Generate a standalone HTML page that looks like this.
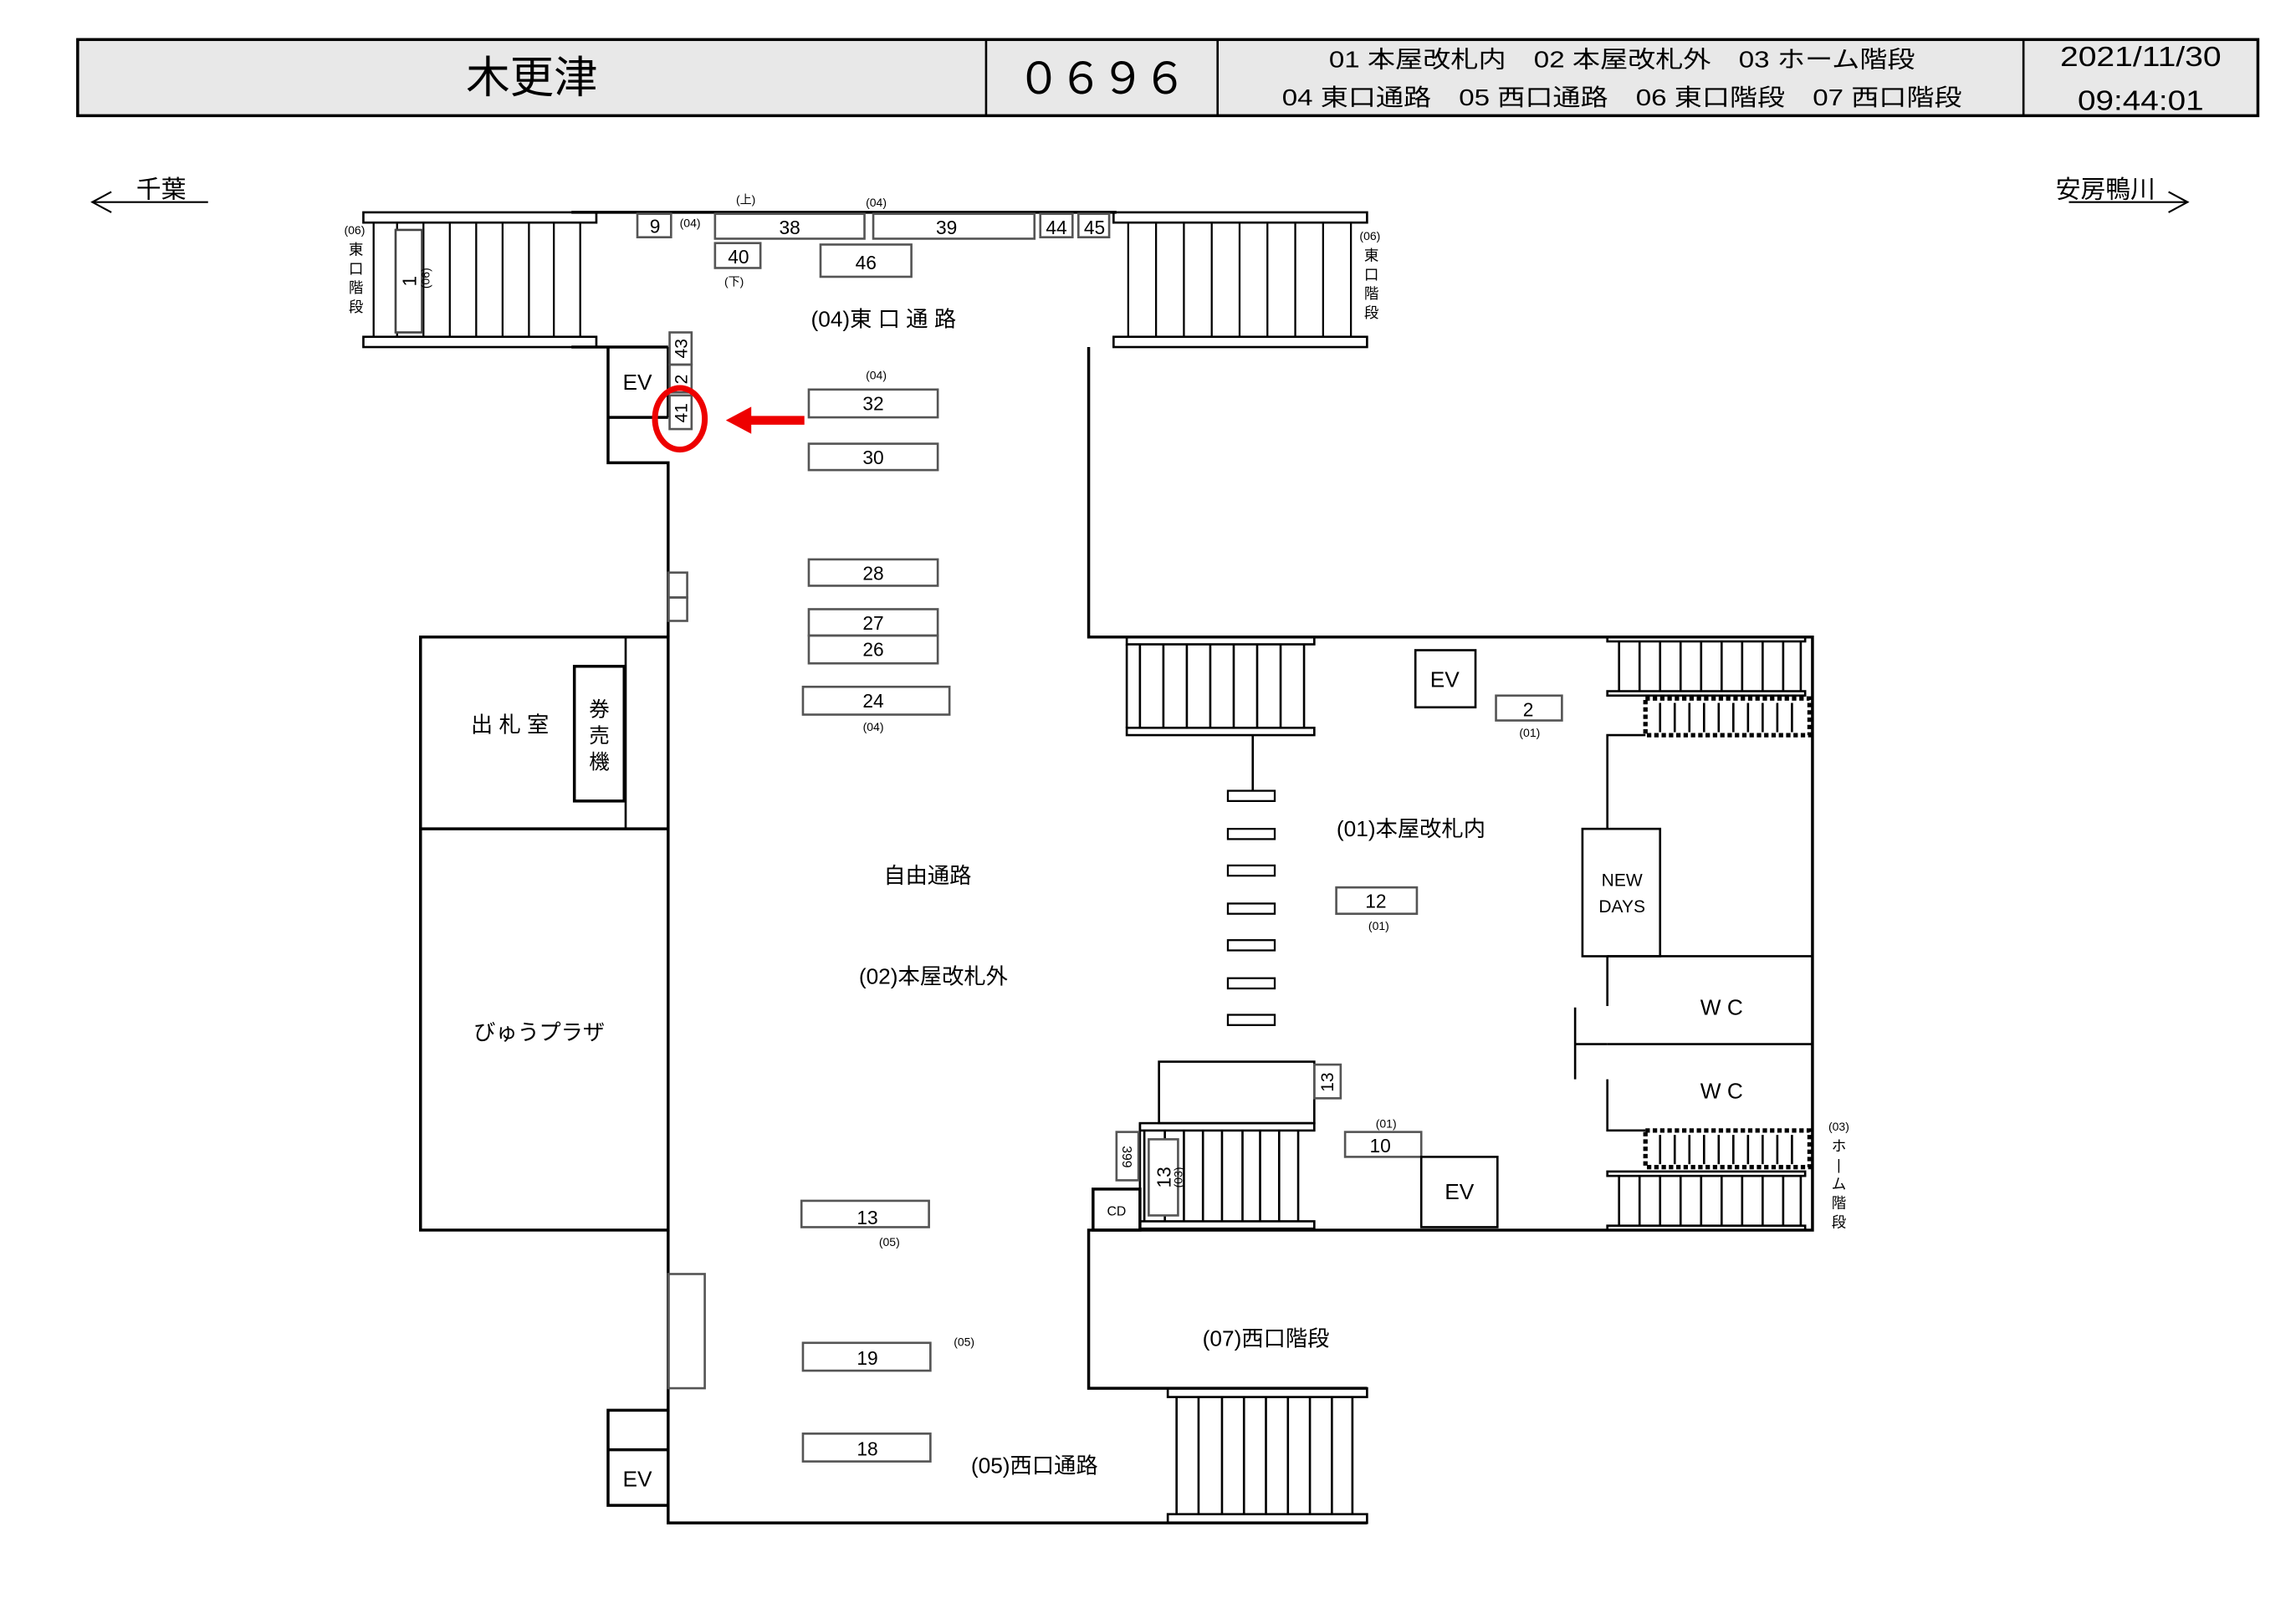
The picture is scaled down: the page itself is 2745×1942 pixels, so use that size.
<!DOCTYPE html>
<html><head><meta charset="utf-8"><style>
html,body{margin:0;padding:0;background:#fff;width:2745px;height:1942px;overflow:hidden}
svg{display:block}
text{font-family:"Liberation Sans","Noto Sans CJK JP",sans-serif;fill:#000}
</style></head><body>
<svg width="2745" height="1942" viewBox="0 0 1567 1109" preserveAspectRatio="none" xmlns="http://www.w3.org/2000/svg">
<g fill="none" stroke="#000" stroke-width="1.5">
<!-- header -->
<rect x="53" y="27" width="1488" height="52" fill="#e8e8e8" stroke-width="2"/>
<line x1="673" y1="27" x2="673" y2="79"/><line x1="831" y1="27" x2="831" y2="79"/><line x1="1381" y1="27" x2="1381" y2="79"/>
<!-- direction arrows -->
<line x1="63" y1="138" x2="142" y2="138" stroke-width="1.2"/><polyline points="76,131 63,138 76,145" stroke-width="1.2"/>
<line x1="1412" y1="138" x2="1493" y2="138" stroke-width="1.2"/><polyline points="1480,131 1493,138 1480,145" stroke-width="1.2"/>

<!-- east-left stair -->
<rect x="248" y="145" width="159" height="7"/><rect x="248" y="230" width="159" height="7"/>
<g stroke-width="1.3"><line x1="255" y1="152" x2="255" y2="230"/><line x1="271" y1="152" x2="271" y2="230"/><line x1="289" y1="152" x2="289" y2="230"/><line x1="307" y1="152" x2="307" y2="230"/><line x1="325" y1="152" x2="325" y2="230"/><line x1="343" y1="152" x2="343" y2="230"/><line x1="361" y1="152" x2="361" y2="230"/><line x1="378" y1="152" x2="378" y2="230"/><line x1="396" y1="152" x2="396" y2="230"/></g>
<rect x="270" y="157" width="18" height="70" fill="#fff" stroke="#444"/>
<!-- top wall -->
<line x1="390" y1="145" x2="762" y2="145" stroke-width="2"/>
<g stroke="#555"><rect x="435" y="146" width="23" height="16"/><rect x="488" y="146" width="102" height="17"/><rect x="596" y="146" width="110" height="17"/><rect x="710" y="146" width="22" height="16"/><rect x="736" y="146" width="21" height="16"/><rect x="488" y="166" width="31" height="17"/><rect x="560" y="167" width="62" height="22"/></g>
<!-- east-right stair -->
<rect x="760" y="145" width="173" height="7"/><rect x="760" y="230" width="173" height="7"/>
<g stroke-width="1.3"><line x1="770" y1="152" x2="770" y2="230"/><line x1="789" y1="152" x2="789" y2="230"/><line x1="808" y1="152" x2="808" y2="230"/><line x1="827" y1="152" x2="827" y2="230"/><line x1="846" y1="152" x2="846" y2="230"/><line x1="865" y1="152" x2="865" y2="230"/><line x1="884" y1="152" x2="884" y2="230"/><line x1="903" y1="152" x2="903" y2="230"/><line x1="922" y1="152" x2="922" y2="230"/></g>

<!-- left walls -->
<g stroke-width="2">
<polyline points="390,237 456,237"/>
<polyline points="415,237 415,316 456,316 456,435"/>
<line x1="415" y1="285" x2="456" y2="285"/>
<line x1="456" y1="237" x2="456" y2="285"/>
<rect x="287" y="435" width="169" height="405"/>
<line x1="287" y1="566" x2="456" y2="566"/>
<polyline points="456,840 456,963 415,963 415,1028 456,1028"/>
<line x1="415" y1="990" x2="456" y2="990"/>
<polyline points="456,963 456,1040 933,1040"/>
<!-- right walls -->
<polyline points="743,237 743,435 1237,435 1237,840 743,840 743,948 933,948"/>
</g>
<line x1="427" y1="435" x2="427" y2="566"/>
<rect x="392" y="455" width="34" height="92" stroke-width="2"/>
<g stroke="#555"><rect x="457" y="227" width="15" height="22"/><rect x="457" y="249" width="15" height="19"/><rect x="457" y="270" width="15" height="23"/>
<rect x="456" y="391" width="13" height="17"/><rect x="456" y="408" width="13" height="16"/>
<rect x="456" y="870" width="25" height="78"/>
<!-- column stores -->
<rect x="552" y="266" width="88" height="19"/><rect x="552" y="303" width="88" height="18"/><rect x="552" y="382" width="88" height="18"/><rect x="552" y="416" width="88" height="18"/><rect x="552" y="434" width="88" height="19"/><rect x="548" y="469" width="100" height="19"/>
<rect x="547" y="820" width="87" height="18"/><rect x="548" y="917" width="87" height="19"/><rect x="548" y="979" width="87" height="19"/></g>
<!-- red marker -->
<ellipse cx="464" cy="286" rx="17" ry="21" stroke="#e00" stroke-width="4"/>
<line x1="549" y1="287" x2="510" y2="287" stroke="#e00" stroke-width="6"/>
<polygon points="497,287 512,279 512,295" fill="#e00" stroke="#e00"/>

<!-- paid area stair top-left -->
<rect x="769" y="435" width="128" height="5"/><rect x="769" y="497" width="128" height="5"/>
<line x1="769" y1="440" x2="769" y2="497"/>
<g><line x1="778" y1="440" x2="778" y2="497"/><line x1="794" y1="440" x2="794" y2="497"/><line x1="810" y1="440" x2="810" y2="497"/><line x1="826" y1="440" x2="826" y2="497"/><line x1="842" y1="440" x2="842" y2="497"/><line x1="858" y1="440" x2="858" y2="497"/><line x1="874" y1="440" x2="874" y2="497"/><line x1="890" y1="440" x2="890" y2="497"/></g>
<line x1="855" y1="502" x2="855" y2="540"/>
<g stroke-width="1.3"><rect x="838" y="540" width="32" height="7"/><rect x="838" y="566" width="32" height="7"/><rect x="838" y="591" width="32" height="7"/><rect x="838" y="617" width="32" height="7"/><rect x="838" y="642" width="32" height="7"/><rect x="838" y="668" width="32" height="7"/><rect x="838" y="693" width="32" height="7"/></g>
<rect x="966" y="444" width="41" height="39"/>
<g stroke="#555"><rect x="1021" y="475" width="45" height="17"/><rect x="912" y="606" width="55" height="18"/><rect x="918" y="773" width="52" height="17"/></g>
<rect x="970" y="790" width="52" height="48"/>
<!-- right platform stairs -->
<rect x="1097" y="435" width="135" height="3"/><rect x="1097" y="472" width="135" height="3"/>
<g><line x1="1105" y1="438" x2="1105" y2="472"/><line x1="1119" y1="438" x2="1119" y2="472"/><line x1="1133" y1="438" x2="1133" y2="472"/><line x1="1147" y1="438" x2="1147" y2="472"/><line x1="1161" y1="438" x2="1161" y2="472"/><line x1="1175" y1="438" x2="1175" y2="472"/><line x1="1189" y1="438" x2="1189" y2="472"/><line x1="1203" y1="438" x2="1203" y2="472"/><line x1="1217" y1="438" x2="1217" y2="472"/><line x1="1229" y1="438" x2="1229" y2="472"/></g>
<rect x="1123" y="477" width="112" height="25" stroke-width="3" stroke-dasharray="3,2"/>
<g><line x1="1133" y1="480" x2="1133" y2="500"/><line x1="1143" y1="480" x2="1143" y2="500"/><line x1="1153" y1="480" x2="1153" y2="500"/><line x1="1163" y1="480" x2="1163" y2="500"/><line x1="1173" y1="480" x2="1173" y2="500"/><line x1="1183" y1="480" x2="1183" y2="500"/><line x1="1193" y1="480" x2="1193" y2="500"/><line x1="1203" y1="480" x2="1203" y2="500"/><line x1="1213" y1="480" x2="1213" y2="500"/><line x1="1223" y1="480" x2="1223" y2="500"/></g>
<rect x="1123" y="772" width="112" height="25" stroke-width="3" stroke-dasharray="3,2"/>
<g><line x1="1133" y1="775" x2="1133" y2="795"/><line x1="1143" y1="775" x2="1143" y2="795"/><line x1="1153" y1="775" x2="1153" y2="795"/><line x1="1163" y1="775" x2="1163" y2="795"/><line x1="1173" y1="775" x2="1173" y2="795"/><line x1="1183" y1="775" x2="1183" y2="795"/><line x1="1193" y1="775" x2="1193" y2="795"/><line x1="1203" y1="775" x2="1203" y2="795"/><line x1="1213" y1="775" x2="1213" y2="795"/><line x1="1223" y1="775" x2="1223" y2="795"/></g>
<rect x="1097" y="800" width="135" height="3"/><rect x="1097" y="837" width="135" height="3"/>
<g><line x1="1105" y1="803" x2="1105" y2="837"/><line x1="1119" y1="803" x2="1119" y2="837"/><line x1="1133" y1="803" x2="1133" y2="837"/><line x1="1147" y1="803" x2="1147" y2="837"/><line x1="1161" y1="803" x2="1161" y2="837"/><line x1="1175" y1="803" x2="1175" y2="837"/><line x1="1189" y1="803" x2="1189" y2="837"/><line x1="1203" y1="803" x2="1203" y2="837"/><line x1="1217" y1="803" x2="1217" y2="837"/><line x1="1229" y1="803" x2="1229" y2="837"/></g>
<!-- NEW DAYS / WC -->
<polyline points="1123,502 1097,502 1097,566"/>
<rect x="1080" y="566" width="53" height="87"/>
<line x1="1097" y1="653" x2="1097" y2="687"/>
<line x1="1097" y1="653" x2="1237" y2="653"/>
<line x1="1097" y1="713" x2="1237" y2="713"/>
<line x1="1075" y1="688" x2="1075" y2="737"/>
<line x1="1075" y1="713" x2="1097" y2="713"/>
<polyline points="1097,737 1097,772 1123,772"/>
<!-- bottom-left paid stair -->
<rect x="791" y="725" width="106" height="42"/>
<rect x="897" y="727" width="18" height="23" stroke="#555"/>
<rect x="778" y="767" width="119" height="5"/><rect x="778" y="834" width="119" height="5"/>
<line x1="778" y1="767" x2="778" y2="840"/>
<g><line x1="781" y1="772" x2="781" y2="834"/><line x1="795" y1="772" x2="795" y2="834"/><line x1="808" y1="772" x2="808" y2="834"/><line x1="821" y1="772" x2="821" y2="834"/><line x1="834" y1="772" x2="834" y2="834"/><line x1="848" y1="772" x2="848" y2="834"/><line x1="860" y1="772" x2="860" y2="834"/><line x1="873" y1="772" x2="873" y2="834"/><line x1="886" y1="772" x2="886" y2="834"/></g>
<rect x="784" y="778" width="20" height="52" fill="#fff" stroke="#555"/>
<rect x="762" y="773" width="15" height="33" stroke="#555"/>
<rect x="746" y="812" width="32" height="28" stroke-width="2"/>
<!-- west stair -->
<rect x="797" y="948" width="136" height="6"/><rect x="797" y="1034" width="136" height="6"/>
<g><line x1="803" y1="954" x2="803" y2="1034"/><line x1="818" y1="954" x2="818" y2="1034"/><line x1="834" y1="954" x2="834" y2="1034"/><line x1="849" y1="954" x2="849" y2="1034"/><line x1="864" y1="954" x2="864" y2="1034"/><line x1="879" y1="954" x2="879" y2="1034"/><line x1="894" y1="954" x2="894" y2="1034"/><line x1="909" y1="954" x2="909" y2="1034"/><line x1="923" y1="954" x2="923" y2="1034"/></g>
</g>

<!-- header text -->
<text x="363" y="63" font-size="30" text-anchor="middle">木更津</text>
<text x="752" y="64" font-size="30" text-anchor="middle" textLength="116" lengthAdjust="spacing">０６９６</text>
<text x="1107" y="46" font-size="16" text-anchor="middle" textLength="400" lengthAdjust="spacingAndGlyphs">01 本屋改札内　02 本屋改札外　03 ホーム階段</text>
<text x="1107" y="72" font-size="16" text-anchor="middle" textLength="464" lengthAdjust="spacingAndGlyphs">04 東口通路　05 西口通路　06 東口階段　07 西口階段</text>
<text x="1461" y="45" font-size="19" text-anchor="middle" textLength="110" lengthAdjust="spacingAndGlyphs">2021/11/30</text>
<text x="1461" y="75" font-size="19" text-anchor="middle" textLength="86" lengthAdjust="spacingAndGlyphs">09:44:01</text>
<text x="110" y="135" font-size="17" text-anchor="middle">千葉</text>
<text x="1437" y="135" font-size="17" text-anchor="middle">安房鴨川</text>

<g font-size="13" text-anchor="middle">
<text x="447" y="159">9</text><text x="539" y="160">38</text><text x="646" y="160">39</text><text x="721" y="160">44</text><text x="747" y="160">45</text><text x="504" y="180">40</text><text x="591" y="184">46</text>
<text x="596" y="280">32</text><text x="596" y="317">30</text><text x="596" y="396">28</text><text x="596" y="430">27</text><text x="596" y="448">26</text><text x="596" y="483">24</text>
<text x="592" y="836">13</text><text x="592" y="932">19</text><text x="592" y="994">18</text>
<text x="1043" y="489">2</text><text x="939" y="620">12</text><text x="942" y="787">10</text>
</g>
<g font-size="8" text-anchor="middle">
<text x="471" y="155">(04)</text><text x="509" y="139">(上)</text><text x="598" y="141">(04)</text><text x="501" y="195">(下)</text>
<text x="598" y="259">(04)</text><text x="596" y="499">(04)</text><text x="607" y="851">(05)</text><text x="658" y="919">(05)</text>
<text x="1044" y="503">(01)</text><text x="941" y="635">(01)</text><text x="946" y="770">(01)</text>
<text x="242" y="160">(06)</text><text x="935" y="164">(06)</text><text x="1255" y="772">(03)</text>
</g>
<g font-size="10" text-anchor="middle">
<text x="243" y="174">東</text><text x="243" y="187">口</text><text x="243" y="200">階</text><text x="243" y="213">段</text>
<text x="936" y="178">東</text><text x="936" y="191">口</text><text x="936" y="204">階</text><text x="936" y="217">段</text>
<text x="1255" y="786">ホ</text><text x="1255" y="799">|</text><text x="1255" y="812">ム</text><text x="1255" y="825">階</text><text x="1255" y="838">段</text>
</g>
<text font-size="13" transform="translate(284,192) rotate(-90)" text-anchor="middle">1</text>
<text font-size="8" transform="translate(293,190) rotate(-90)" text-anchor="middle">(06)</text>
<text font-size="12" transform="translate(469,238) rotate(-90)" text-anchor="middle">43</text>
<text font-size="12" transform="translate(469,259) rotate(-90)" text-anchor="middle">2</text>
<text font-size="12" transform="translate(469,282) rotate(-90)" text-anchor="middle">41</text>
<text font-size="12" transform="translate(910,739) rotate(-90)" text-anchor="middle">13</text>
<text font-size="13" transform="translate(799,804) rotate(-90)" text-anchor="middle">13</text>
<text font-size="8" transform="translate(807,804) rotate(-90)" text-anchor="middle">(03)</text>
<text font-size="9" transform="translate(766,790) rotate(90)" text-anchor="middle">399</text>
<text x="762" y="830" font-size="9" text-anchor="middle">CD</text>
<g font-size="15" text-anchor="middle">
<text x="435" y="266">EV</text><text x="986" y="469">EV</text><text x="996" y="819">EV</text><text x="435" y="1015">EV</text>
<text x="603" y="223">(04)東 口 通 路</text>
<text x="348" y="500">出 札 室</text>
<text x="633" y="603">自由通路</text>
<text x="637" y="672">(02)本屋改札外</text>
<text x="368" y="710">びゅうプラザ</text>
<text x="963" y="571">(01)本屋改札内</text>
<text x="1175" y="693">W C</text><text x="1175" y="750">W C</text>
<text x="864" y="919">(07)西口階段</text>
<text x="706" y="1006">(05)西口通路</text>
</g>
<g font-size="14" text-anchor="middle"><text x="409" y="489">券</text><text x="409" y="507">売</text><text x="409" y="525">機</text></g>
<g font-size="12" text-anchor="middle"><text x="1107" y="605">NEW</text><text x="1107" y="623">DAYS</text></g>
</svg>
</body></html>
